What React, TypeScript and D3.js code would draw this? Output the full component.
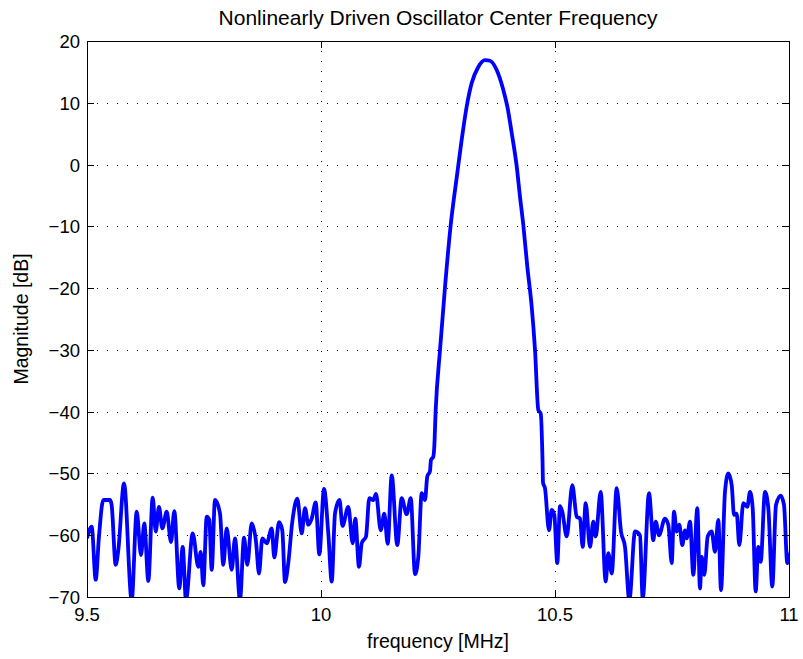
import React from 'react';
import * as d3 from 'd3';

// frequency [MHz] and magnitude [dB]
const freqMHz = [
  9.5, 9.510, 9.5186, 9.5256, 9.5348, 9.549, 9.5525, 9.5613, 9.5669, 9.5791,
  9.5955, 9.6062, 9.6154, 9.6224, 9.631, 9.6404, 9.6468, 9.6538, 9.6609, 9.6703,
  9.6795, 9.6865, 9.6972, 9.7045, 9.7115, 9.7259, 9.7378, 9.743, 9.7485, 9.7558,
  9.7613, 9.7665, 9.7735, 9.7842, 9.7912, 9.7985, 9.8092, 9.8162, 9.8269, 9.8355,
  9.8425, 9.8519, 9.8611, 9.8675, 9.8746, 9.884, 9.8947, 9.9002, 9.9103, 9.9173,
  9.9231, 9.9301, 9.9387, 9.9494, 9.9588, 9.9658, 9.9729, 9.9801, 9.9887, 9.9964,
  10.0064, 10.0156, 10.0229, 10.0299, 10.0395, 10.0459, 10.0583, 10.0677, 10.0733, 10.0812,
  10.087, 10.0962, 10.1032, 10.1118, 10.1175, 10.1276, 10.1353, 10.1425, 10.1511, 10.163,
  10.1724, 10.1831, 10.1917, 10.2009, 10.2079, 10.2152, 10.2222, 10.2271, 10.2329, 10.235,
  10.2399, 10.2419, 10.2451, 10.2543, 10.265, 10.2771, 10.2912, 10.3006, 10.3113, 10.322,
  10.3361, 10.3504, 10.3611, 10.3754, 10.3895, 10.3981, 10.4075, 10.4182, 10.4252, 10.4323,
  10.4408, 10.4502, 10.4573, 10.4643, 10.4695, 10.4733, 10.4744, 10.4786, 10.4872, 10.4929,
  10.4985, 10.5049, 10.5107, 10.5156, 10.525, 10.537, 10.5464, 10.5534, 10.5592, 10.5656,
  10.5748, 10.5818, 10.587, 10.5976, 10.6083, 10.6139, 10.6212, 10.6318, 10.641, 10.6496,
  10.6588, 10.671, 10.6816, 10.6874, 10.7009, 10.7101, 10.7152, 10.7222, 10.735, 10.7421,
  10.7494, 10.7543, 10.7601, 10.7656, 10.772, 10.7778, 10.7814, 10.7885, 10.7955, 10.8041,
  10.8098, 10.8135, 10.819, 10.8263, 10.8348, 10.8419, 10.849, 10.8547, 10.8632, 10.8703,
  10.8776, 10.8825, 10.8882, 10.8938, 10.9024, 10.9109, 10.9167, 10.9224, 10.9288, 10.9344,
  10.9395, 10.9487, 10.9558, 10.9643, 10.9722, 10.9823, 10.9893, 10.9964, 11.0036,
];
const magnitudeDb = [
  -60.5, -58.6, -67.2, -60.2, -54.3, -54.3, -55.0, -64.8, -62.4, -51.6,
  -70.5, -56.2, -63.2, -58.1, -67.4, -53.9, -59.4, -55.4, -58.9, -56.2,
  -61.1, -56.1, -68.6, -61.9, -70.5, -59.7, -65.1, -62.7, -68.1, -57.0,
  -57.5, -65.6, -54.3, -56.5, -64.8, -58.9, -65.6, -60.5, -70.5, -60.4,
  -64.8, -58.1, -61.0, -66.2, -60.5, -61.3, -58.9, -63.6, -57.9, -59.2,
  -67.6, -64.5, -57.8, -54.1, -59.7, -55.6, -58.3, -57.3, -54.7, -63.1,
  -52.5, -59.7, -67.5, -56.5, -54.3, -58.5, -55.4, -61.3, -57.3, -65.1,
  -61.3, -60.2, -54.0, -54.3, -53.3, -59.2, -56.5, -61.4, -50.3, -61.6,
  -54.0, -56.6, -54.0, -66.3, -63.5, -53.2, -54.3, -50.5, -49.6, -47.8,
  -47.3, -45.9, -39.7, -30.0, -19.8, -9.8, -1.4, 4.0, 9.4, 13.2,
  15.8, 16.9, 16.8, 15.3, 12.1, 9.4, 5.1, -0.3, -5.2, -9.8,
  -16.5, -23.0, -30.0, -39.7, -40.3, -47.8, -51.5, -52.4, -59.2, -55.9,
  -56.7, -64.5, -55.3, -56.2, -60.2, -51.9, -57.0, -57.3, -61.9, -54.8,
  -61.9, -57.8, -60.2, -53.0, -67.5, -62.9, -66.2, -52.4, -59.4, -61.9,
  -70.5, -59.4, -60.0, -70.2, -53.2, -60.8, -57.8, -60.0, -57.3, -58.3,
  -64.5, -56.2, -59.4, -58.3, -61.6, -59.2, -60.5, -57.8, -66.4, -55.6,
  -68.6, -63.5, -66.4, -60.2, -59.4, -62.7, -57.5, -68.9, -53.0, -50.0,
  -51.9, -56.7, -56.5, -61.6, -54.8, -55.4, -53.0, -55.6, -69.1, -61.9,
  -64.3, -53.0, -55.6, -68.3, -55.1, -53.6, -55.1, -64.5, -62.7,
];
const xTicks = [9.5, 10, 10.5, 11];
const xTickLabels = ['9.5', '10', '10.5', '11'];
const yTicks = [20, 10, 0, -10, -20, -30, -40, -50, -60, -70];
const yTickLabels = ['20', '10', '0', '\u221210', '\u221220', '\u221230', '\u221240', '\u221250', '\u221260', '\u221270'];

const title = 'Nonlinearly Driven Oscillator Center Frequency';
const xLabel = 'frequency [MHz]';
const yLabel = 'Magnitude [dB]';

export default function App() {
  const W = 803;
  const H = 659;
  const L = 87, R = 789, T = 41, B = 597;
  const x = d3.scaleLinear().domain([9.5, 11]).range([L, R]);
  const y = d3.scaleLinear().domain([-70, 20]).range([B, T]);
  const line = d3
    .line<number>()
    .x((_, i) => x(freqMHz[i]))
    .y((d) => y(d))
    .curve(d3.curveMonotoneX);
  const font = '"Liberation Sans", Arial, Helvetica, sans-serif';
  const tickLen = 7;

  return (
    <svg
      width={W}
      height={H}
      style={{ position: 'absolute', left: 0, top: 0, background: '#fff' }}
      fontFamily={font}
    >
      <defs>
        <clipPath id="plotClip">
          <rect x={L} y={T} width={R - L} height={B - T} />
        </clipPath>
      </defs>
      <rect x={0} y={0} width={W} height={H} fill="#fff" />
      {/* grid */}
      <g stroke="#000" strokeWidth={1} strokeDasharray="1,9">
        {xTicks.slice(1, -1).map((t) => (
          <line key={'gx' + t} x1={x(t) + 0.5} x2={x(t) + 0.5} y1={T} y2={B} />
        ))}
        {yTicks.slice(1, -1).map((t) => (
          <line key={'gy' + t} x1={L} x2={R} y1={Math.round(y(t)) + 0.5} y2={Math.round(y(t)) + 0.5} />
        ))}
      </g>
      {/* data */}
      <path
        d={line(magnitudeDb) || ''}
        fill="none"
        stroke="#0000ff"
        strokeWidth={3.8}
        strokeLinejoin="round"
        clipPath="url(#plotClip)"
      />
      {/* ticks */}
      <g stroke="#000" strokeWidth={1}>
        {xTicks.map((t) => (
          <g key={'tx' + t}>
            <line x1={x(t) + 0.5} x2={x(t) + 0.5} y1={B} y2={B - tickLen} />
            <line x1={x(t) + 0.5} x2={x(t) + 0.5} y1={T} y2={T + tickLen} />
          </g>
        ))}
        {yTicks.map((t) => (
          <g key={'ty' + t}>
            <line x1={L} x2={L + tickLen} y1={Math.round(y(t)) + 0.5} y2={Math.round(y(t)) + 0.5} />
            <line x1={R} x2={R - tickLen} y1={Math.round(y(t)) + 0.5} y2={Math.round(y(t)) + 0.5} />
          </g>
        ))}
      </g>
      <rect x={L + 0.5} y={T + 0.5} width={R - L} height={B - T} fill="none" stroke="#000" strokeWidth={1} />
      {/* tick labels */}
      <g fontSize={18.5} fill="#000">
        {xTicks.map((t, i) => (
          <text key={'lx' + t} x={x(t)} y={B + 24} textAnchor="middle">
            {xTickLabels[i]}
          </text>
        ))}
        {yTicks.map((t, i) => (
          <text key={'ly' + t} x={L - 7} y={y(t) + 7} textAnchor="end">
            {yTickLabels[i]}
          </text>
        ))}
      </g>
      <text x={(L + R) / 2} y={25} textAnchor="middle" fontSize={21}>
        {title}
      </text>
      <text x={(L + R) / 2} y={648} textAnchor="middle" fontSize={19.5}>
        {xLabel}
      </text>
      <text
        transform={`translate(28, ${(T + B) / 2}) rotate(-90)`}
        textAnchor="middle"
        fontSize={19.5}
      >
        {yLabel}
      </text>
    </svg>
  );
}
